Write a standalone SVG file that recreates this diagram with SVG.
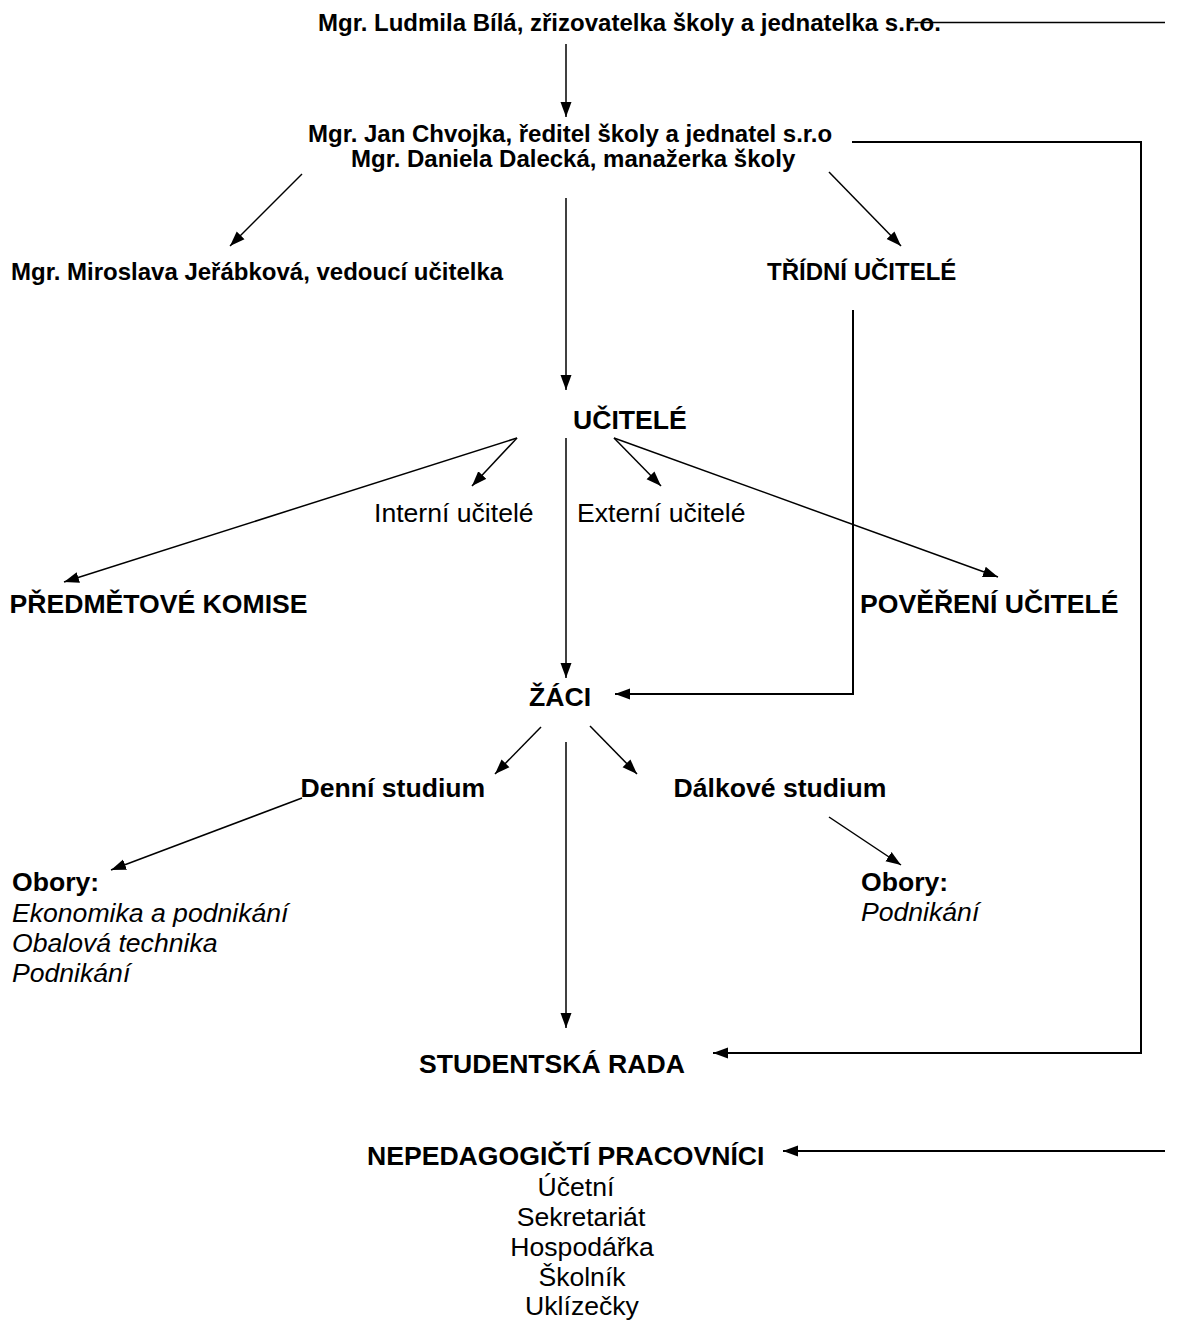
<svg xmlns="http://www.w3.org/2000/svg" width="1178" height="1321" viewBox="0 0 1178 1321">
<style>
text{font-family:"Liberation Sans",Arial,sans-serif;fill:#000}
.b{font-weight:bold;font-size:26.6px}
.s{font-weight:bold;font-size:24px}
.r{font-size:26.6px}
.i{font-style:italic;font-size:26.6px}
.c{text-anchor:middle}
.ln{stroke:#000;stroke-width:1.5;fill:none}
.lt{stroke:#000;stroke-width:2;fill:none}
</style>
<defs>
<marker id="ah" markerWidth="16" markerHeight="12" refX="15" refY="6" orient="auto" markerUnits="userSpaceOnUse">
<path d="M0,0.5 L15,6 L0,11.5 z" fill="#000"/>
</marker>
</defs>
<rect width="1178" height="1321" fill="#fff"/>
<g id="connectors">
<line class="ln" x1="908" y1="22.5" x2="1165" y2="22.5"/>
<line class="ln" x1="566" y1="44" x2="566" y2="117" marker-end="url(#ah)"/>
<polyline class="lt" points="852,142 1141,142 1141,1053 713,1053" marker-end="url(#ah)"/>
<line class="ln" x1="302" y1="174" x2="230" y2="246" marker-end="url(#ah)"/>
<line class="ln" x1="829" y1="172" x2="901" y2="246" marker-end="url(#ah)"/>
<line class="ln" x1="566" y1="198" x2="566" y2="390" marker-end="url(#ah)"/>
<polyline class="lt" points="853,310 853,694 615,694" marker-end="url(#ah)"/>
<line class="ln" x1="517" y1="438" x2="64" y2="582" marker-end="url(#ah)"/>
<line class="ln" x1="517" y1="438" x2="472" y2="486" marker-end="url(#ah)"/>
<line class="ln" x1="566" y1="438" x2="566" y2="678" marker-end="url(#ah)"/>
<line class="ln" x1="614" y1="438" x2="661" y2="486" marker-end="url(#ah)"/>
<line class="ln" x1="614" y1="438" x2="998" y2="577" marker-end="url(#ah)"/>
<line class="ln" x1="541" y1="727" x2="495" y2="774" marker-end="url(#ah)"/>
<line class="ln" x1="590" y1="726" x2="637" y2="774" marker-end="url(#ah)"/>
<line class="ln" x1="566" y1="742" x2="566" y2="1028" marker-end="url(#ah)"/>
<line class="ln" x1="302" y1="798" x2="111" y2="870" marker-end="url(#ah)"/>
<line class="ln" x1="829" y1="817" x2="901" y2="865" marker-end="url(#ah)"/>
<line class="lt" x1="1165" y1="1151" x2="783" y2="1151" marker-end="url(#ah)"/>
</g>
<g id="zrizovatelka"><text class="s" x="318" y="31">Mgr. Ludmila Bílá, zřizovatelka školy a jednatelka s.r.o.</text></g>
<g id="reditel">
<text class="s" x="308" y="141.5">Mgr. Jan Chvojka, ředitel školy a jednatel s.r.o</text>
<text class="s" x="351" y="167">Mgr. Daniela Dalecká, manažerka školy</text>
</g>
<g id="vedouci"><text class="s" x="11" y="280">Mgr. Miroslava Jeřábková, vedoucí učitelka</text></g>
<g id="tridni"><text class="s" x="767" y="280">TŘÍDNÍ UČITELÉ</text></g>
<g id="ucitele"><text class="b" x="573" y="429">UČITELÉ</text></g>
<g id="interni"><text class="r" x="374" y="522">Interní učitelé</text></g>
<g id="externi"><text class="r" x="577" y="522">Externí učitelé</text></g>
<g id="komise"><text class="b" x="9.5" y="613">PŘEDMĚTOVÉ KOMISE</text></g>
<g id="povereni"><text class="b" x="860" y="613">POVĚŘENÍ UČITELÉ</text></g>
<g id="zaci"><text class="b" x="529" y="706">ŽÁCI</text></g>
<g id="denni"><text class="b" x="300.5" y="797">Denní studium</text></g>
<g id="dalkove"><text class="b" x="673.5" y="797">Dálkové studium</text></g>
<g id="obory-denni">
<text class="b" x="12" y="891">Obory:</text>
<text class="i" x="12" y="921.5">Ekonomika a podnikání</text>
<text class="i" x="12" y="952">Obalová technika</text>
<text class="i" x="12" y="982">Podnikání</text>
</g>
<g id="obory-dalkove">
<text class="b" x="861" y="891">Obory:</text>
<text class="i" x="861" y="921">Podnikání</text>
</g>
<g id="studentska-rada"><text class="b" x="419" y="1073">STUDENTSKÁ RADA</text></g>
<g id="nepedagogicti">
<text class="b" x="367" y="1165">NEPEDAGOGIČTÍ PRACOVNÍCI</text>
<text class="r c" x="576" y="1196">Účetní</text>
<text class="r c" x="581" y="1226">Sekretariát</text>
<text class="r c" x="582" y="1256">Hospodářka</text>
<text class="r c" x="582" y="1285.5">Školník</text>
<text class="r c" x="582" y="1314.5">Uklízečky</text>
</g>
</svg>
